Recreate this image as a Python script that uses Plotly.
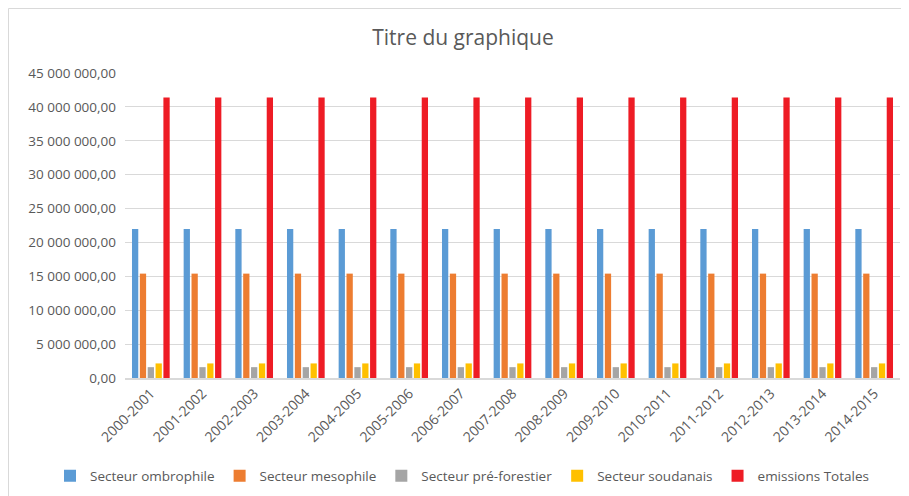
import plotly.graph_objects as go

categories = ["2000-2001", "2001-2002", "2002-2003", "2003-2004", "2004-2005",
              "2005-2006", "2006-2007", "2007-2008", "2008-2009", "2009-2010",
              "2010-2011", "2011-2012", "2012-2013", "2013-2014", "2014-2015"]
ombrophile = [22000000] * 15
mesophile = [15400000] * 15
pre_forestier = [1600000] * 15
soudanais = [2150000] * 15
emissions_totales = [41400000] * 15

series = [
    ("Secteur ombrophile", ombrophile, "#5B9BD5"),
    ("Secteur mesophile", mesophile, "#ED7D31"),
    ("Secteur pré-forestier", pre_forestier, "#A5A5A5"),
    ("Secteur soudanais", soudanais, "#FFC000"),
    ("emissions Totales", emissions_totales, "#EE1C25"),
]

# The page places the figure 8px from the top-left corner (body margin).
OFF = 8
W, H = 909 - OFF, 496 - OFF
L, R, T, B = 125 - OFF, 9, 73 - OFF, 118
pw, ph = W - L - R, H - T - B

fig = go.Figure()
for name, vals, col in series:
    fig.add_trace(go.Bar(x=categories, y=vals, name=name, marker_color=col,
                         marker_line_width=0))

def px_x(p):  # page pixel -> paper
    return (p - OFF - L) / pw

def px_y(p):
    return (H - B - (p - OFF)) / ph

fig.update_layout(
    width=W, height=H,
    margin=dict(l=L, r=R, t=T, b=B, autoexpand=False),
    paper_bgcolor="white", plot_bgcolor="white",
    font=dict(family="Open Sans, Liberation Sans, sans-serif", color="#595959", size=13),
    separators=", ",
    title=dict(text="Titre du graphique", x=(463 - OFF) / W, xanchor="center",
               y=1 - (38 - OFF) / H, yanchor="middle",
               font=dict(size=21, color="#595959")),
    barmode="group", bargap=0.24, bargroupgap=0.2,
    legend=dict(orientation="h", xref="paper", x=px_x(50), xanchor="left",
                y=px_y(476), yanchor="middle",
                font=dict(size=13.5, color="#595959"), itemwidth=30),
    xaxis=dict(tickangle=-45, showgrid=False, showline=True, linecolor="#D9D9D9",
               linewidth=1.5, ticks="", automargin=False,
               tickfont=dict(size=14, color="#595959")),
    yaxis=dict(range=[0, 45000000], dtick=5000000, tickformat=",.2f",
               gridcolor="#D9D9D9", gridwidth=1, zeroline=False, showline=False,
               ticks="", automargin=False, ticklabelstandoff=8,
               tickfont=dict(size=13.5, color="#595959")),
    shapes=[
        dict(type="line", xref="paper", yref="paper",
             x0=px_x(8.5), x1=px_x(8.5), y0=px_y(496), y1=px_y(8.5),
             line=dict(color="#D9D9D9", width=1)),
        dict(type="line", xref="paper", yref="paper",
             x0=px_x(8.5), x1=px_x(909), y0=px_y(8.5), y1=px_y(8.5),
             line=dict(color="#D9D9D9", width=1)),
    ],
)

fig.write_html("out.html")
